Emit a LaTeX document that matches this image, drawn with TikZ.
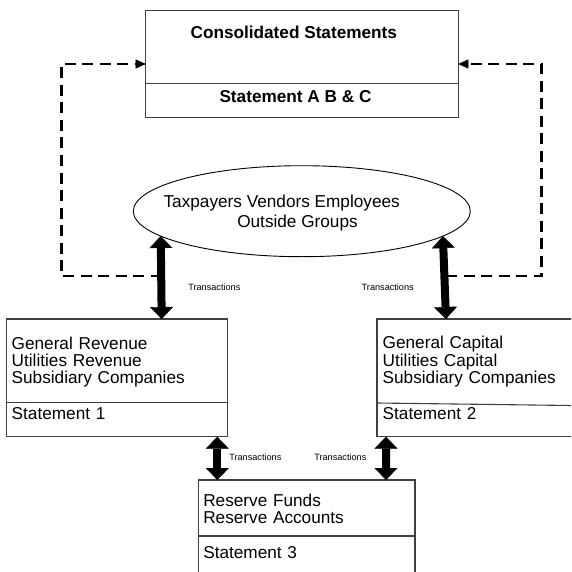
\documentclass[tikz,border=0pt]{standalone}
\usepackage{fontspec}
\setmainfont{Liberation Sans}
\usetikzlibrary{arrows.meta,shapes.geometric}
\begin{document}
\begin{tikzpicture}[x=1pt,y=-1pt,
  panel/.style={draw=black!75, line width=1.1pt, rectangle, inner sep=0pt, outer sep=0pt, anchor=north west},
  divider/.style={draw=black!75, line width=1.1pt},
  txt/.style={inner sep=0pt, outer sep=0pt, font=\fontsize{17.2}{17.2}\selectfont},
  boxtext/.style={txt, anchor=base west, text width=210pt, align=left},
  headtext/.style={txt, anchor=base, font=\fontsize{17.2}{17.2}\selectfont\bfseries},
  ovaltext/.style={txt, anchor=base},
  smalltxt/.style={inner sep=0pt, outer sep=0pt, anchor=base west, font=\fontsize{9.15}{10}\selectfont},
  twoway/.style={line width=8pt,
    {Triangle[width=23pt,length=12pt,line width=0.4pt]}-{Triangle[width=23pt,length=12pt,line width=0.4pt]}},
  feedback/.style={line width=2.6pt, dash pattern=on 11pt off 6.5pt,
    -{Triangle[length=10pt,width=9pt,line width=0.4pt]}}
]
\useasboundingbox (0,0) rectangle (571,572);
\clip (0,0) rectangle (571,572);

% consolidated statements
\node[panel, minimum width=312.6pt, minimum height=106.6pt] (cons) at (145.7,10.7) {};
\draw[divider] (cons.west |- 0,83.7) -- (cons.east |- 0,83.7);
\node[headtext] (constitle) at (293.8,38.5) {Consolidated Statements};
\node[headtext] (consstmt) at (295.5,102.9) {Statement A B \& C};

% outside parties
\node[ellipse, draw, line width=0.9pt, minimum width=337pt, minimum height=91pt,
      inner sep=0pt, outer sep=0pt] (ell) at (301.8,211.2) {};
\node[ovaltext] (ellone) at (281.7,207.2) {Taxpayers Vendors Employees};
\node[ovaltext] (elltwo) at (297.5,227.2) {Outside Groups};

% revenue funds
\node[panel, minimum width=221pt, minimum height=117.7pt] (lbox) at (6.7,319) {};
\draw[divider] (lbox.west |- 0,402.7) -- (lbox.east |- 0,402.7);
\node[boxtext] (lboxtxt) at (11.7,349.5) {General Revenue\\Utilities Revenue\\Subsidiary Companies};
\node[boxtext] (lboxstmt) at (11.7,419) {Statement 1};

% capital funds
\node[panel, minimum width=220pt, minimum height=117.7pt] (rbox) at (377,319) {};
\draw[divider] (rbox.west |- 0,403) -- (571,405.5);
\node[boxtext] (rboxtxt) at (382.7,348.8) {General Capital\\Utilities Capital\\Subsidiary Companies};
\node[boxtext] (rboxstmt) at (382.7,419.5) {Statement 2};

% reserves
\node[panel, minimum width=216.7pt, minimum height=110pt] (res) at (198.3,480) {};
\draw[divider] (res.west |- 0,536) -- (res.east |- 0,536);
\node[boxtext] (restxt) at (203.3,506.2) {Reserve Funds\\Reserve Accounts};
\node[boxtext] (resstmt) at (203.3,558.9) {Statement 3};

% transactions
\draw[twoway] (ell.190.24) -- ([xshift=155pt]lbox.north west);
\draw[twoway] (ell.350.73) -- ([xshift=69pt]rbox.north west);
\draw[twoway] ([xshift=-10.4pt]lbox.south east) -- ([xshift=19pt]res.north west);
\draw[twoway] ([xshift=9pt]rbox.south west) -- ([xshift=-29pt]res.north east);

\node[smalltxt] (tr1) at (188.3,290.6) {Transactions};
\node[smalltxt] (tr2) at (361.7,290.6) {Transactions};
\node[smalltxt] (tr3) at (229.3,460.6) {Transactions};
\node[smalltxt] (tr4) at (314.3,460.6) {Transactions};

% reporting lines to the consolidated statements
\coordinate (lj) at (161.7,276);
\coordinate (rj) at (446,276);
\draw[feedback] (lj) -- (61.7,276) |- (cons.west);
\draw[feedback] (rj) -- (541.7,276) |- (cons.east);
\end{tikzpicture}
\end{document}
